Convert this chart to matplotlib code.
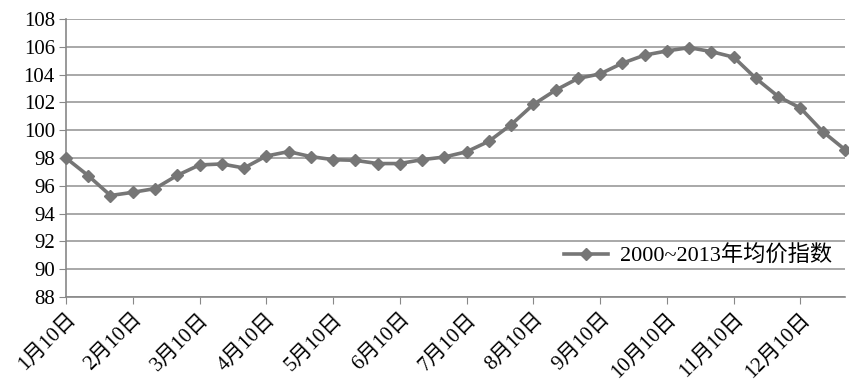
import numpy as np
import matplotlib
matplotlib.use("Agg")
import matplotlib.pyplot as plt

plt.rcParams['font.family'] = ['Liberation Serif', 'Noto Sans CJK SC']

# three readings per month (10th, 20th, 30th), category axis
values = [98.0, 96.73, 95.3, 95.53, 95.8, 96.75, 97.5, 97.57, 97.28, 98.14,
          98.46, 98.1, 97.88, 97.83, 97.6, 97.6, 97.88, 98.07, 98.45, 99.2,
          100.4, 101.85, 102.88, 103.72, 104.05, 104.82, 105.4, 105.7, 105.94, 105.65,
          105.25, 103.72, 102.42, 101.59, 99.9, 98.6]
months = [str(m) + "月10日" for m in range(1, 13)]
series_name = "2000~2013年均价指数"

x = np.arange(len(values))

fig = plt.figure(figsize=(8.49, 3.83), dpi=100)
ax = fig.add_axes([0.0777, 0.2245, 0.9176, 0.726])

ax.plot(x, values, color='#767676', lw=2.6, marker='D', ms=6,
        mfc='#767676', mec='#767676', clip_on=False, zorder=3, label=series_name)

ax.set_xlim(0, len(values) - 1)
ax.set_ylim(88, 108)
ax.set_yticks(np.arange(88, 109, 2))
ax.set_xticks(x[::3])
ax.set_xticklabels(months, rotation=45, ha='right', rotation_mode='anchor', fontsize=15)
ax.tick_params(axis='y', labelsize=15, length=5, color='#888888', pad=3)
ax.tick_params(axis='x', length=5, color='#888888', pad=4)

ax.grid(axis='y', color='#9a9a9a', lw=1.2)
ax.set_axisbelow(True)
for s in ['top', 'right']:
    ax.spines[s].set_visible(False)
for s in ['left', 'bottom']:
    ax.spines[s].set_color('#888888')
    ax.spines[s].set_linewidth(1.2)

leg = ax.legend(loc='lower right', bbox_to_anchor=(1.0, 0.06), frameon=False,
                fontsize=16, handlelength=2.0, handletextpad=0.5, borderaxespad=0.2)

fig.savefig("out.png", dpi=100)
